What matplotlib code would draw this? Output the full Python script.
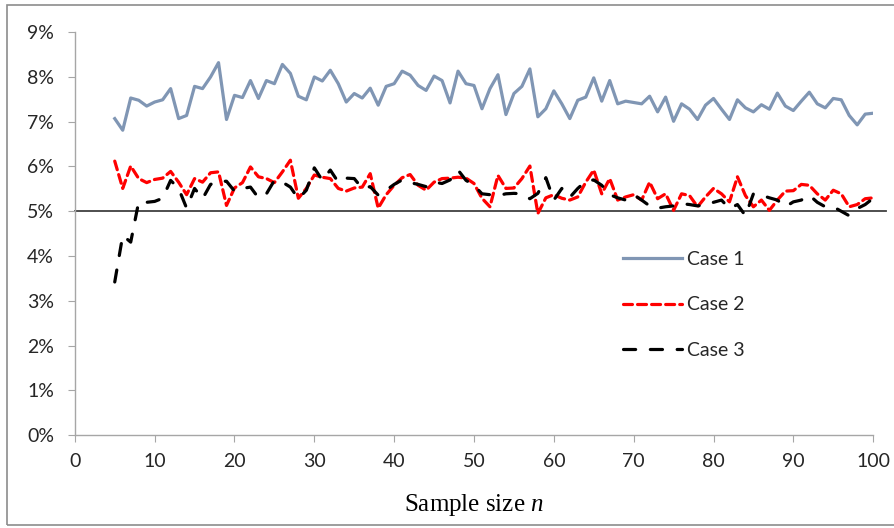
import matplotlib
matplotlib.use("Agg")
import matplotlib.pyplot as plt
from matplotlib.patches import Rectangle
from matplotlib.ticker import FuncFormatter
import numpy as np

n = np.arange(5, 101)

case1 = [7.07, 6.81, 7.53, 7.48, 7.35, 7.44, 7.49, 7.74, 7.07, 7.14,
         7.79, 7.74, 8.00, 8.32, 7.05, 7.59, 7.54, 7.92, 7.52, 7.92,
         7.85, 8.28, 8.08, 7.57, 7.49, 8.00, 7.91, 8.15, 7.85, 7.44,
         7.63, 7.53, 7.75, 7.37, 7.79, 7.85, 8.13, 8.04, 7.81, 7.70,
         8.02, 7.92, 7.42, 8.13, 7.85, 7.81, 7.29, 7.74, 8.05, 7.16,
         7.63, 7.79, 8.18, 7.11, 7.29, 7.69, 7.40, 7.07, 7.48, 7.55,
         7.98, 7.46, 7.92, 7.40, 7.46, 7.43, 7.40, 7.57, 7.22, 7.55,
         7.01, 7.40, 7.28, 7.05, 7.37, 7.52, 7.28, 7.05, 7.49, 7.31,
         7.22, 7.38, 7.28, 7.64, 7.35, 7.25, 7.46, 7.66, 7.40, 7.31,
         7.52, 7.49, 7.14, 6.93, 7.17, 7.19]

case2 = [6.12, 5.51, 6.01, 5.73, 5.64, 5.71, 5.74, 5.89, 5.65, 5.37,
         5.73, 5.65, 5.86, 5.88, 5.13, 5.52, 5.64, 5.99, 5.77, 5.73,
         5.64, 5.88, 6.14, 5.29, 5.51, 5.81, 5.76, 5.73, 5.51, 5.45,
         5.52, 5.54, 5.84, 5.07, 5.37, 5.58, 5.75, 5.82, 5.58, 5.47,
         5.65, 5.73, 5.74, 5.76, 5.74, 5.62, 5.29, 5.10, 5.80, 5.51,
         5.52, 5.73, 6.01, 4.95, 5.30, 5.37, 5.29, 5.25, 5.32, 5.65,
         5.92, 5.39, 5.73, 5.25, 5.32, 5.37, 5.25, 5.65, 5.28, 5.39,
         5.02, 5.39, 5.35, 5.10, 5.32, 5.51, 5.39, 5.21, 5.77, 5.35,
         5.10, 5.25, 5.02, 5.25, 5.45, 5.46, 5.60, 5.58, 5.39, 5.25,
         5.47, 5.39, 5.10, 5.15, 5.28, 5.30]

case3 = [3.42, 4.46, 4.31, 5.21, 5.20, 5.22, 5.29, 5.69, 5.51, 5.07,
         5.51, 5.28, 5.60, 5.67, 5.67, 5.45, 5.51, 5.54, 5.30, 5.39,
         5.69, 5.65, 5.54, 5.28, 5.47, 5.97, 5.69, 5.92, 5.65, 5.74,
         5.73, 5.51, 5.55, 5.36, 5.47, 5.60, 5.70, 5.64, 5.60, 5.55,
         5.65, 5.62, 5.70, 5.92, 5.69, 5.58, 5.39, 5.37, 5.35, 5.39,
         5.40, 5.39, 5.28, 5.40, 5.75, 5.25, 5.51, 5.31, 5.51, 5.67,
         5.70, 5.58, 5.37, 5.30, 5.25, 5.37, 5.25, 5.12, 5.07, 5.10,
         5.12, 5.17, 5.15, 5.12, 5.14, 5.20, 5.25, 5.06, 5.15, 4.90,
         5.39, 5.36, 5.30, 5.25, 5.10, 5.21, 5.25, 5.36, 5.20, 5.10,
         5.10, 5.00, 4.90, 5.06, 5.15, 5.29]

nominal = 5.0
labels = ["Case 1", "Case 2", "Case 3"]

plt.rcParams['font.family'] = ['Lato', 'DejaVu Sans']
plt.rcParams['mathtext.fontset'] = 'custom'
plt.rcParams['mathtext.rm'] = 'Liberation Serif'
plt.rcParams['mathtext.it'] = 'Liberation Serif:italic'

fig = plt.figure(figsize=(8.94, 5.28), dpi=100)
ax = fig.add_axes([0.0837, 0.176, 0.893, 0.763])

# frame round the whole chart
fig.patches.append(Rectangle((7 / 894, 3 / 528), 1.0, 1 - 8 / 528,
                             transform=fig.transFigure, fill=False,
                             edgecolor='#8c8c8c', lw=1.2))

ax.axhline(nominal, xmin=0, xmax=1.016, color='#404040', lw=1.3,
           clip_on=False, zorder=1)

ax.plot(n, case1, color='#8096b4', lw=2.3, label=labels[0], zorder=3)
ax.plot(n, case2, color='#ff0000', lw=2.3, linestyle=(0, (2.8, 1.6)),
        dash_capstyle='round', label=labels[1], zorder=3)
ax.plot(n, case3, color='#000000', lw=2.3, linestyle=(0, (3.8, 4.6)),
        dash_capstyle='round', label=labels[2], zorder=4)

ax.set_xlim(0, 100)
ax.set_ylim(0, 9)
ax.set_xticks(np.arange(0, 101, 10))
ax.set_yticks(np.arange(0, 10, 1))
ax.yaxis.set_major_formatter(FuncFormatter(lambda v, p: "%d%%" % v))

for side in ['top', 'right']:
    ax.spines[side].set_visible(False)
for side in ['left', 'bottom']:
    ax.spines[side].set_color('#a6a6a6')
    ax.spines[side].set_linewidth(1.0)
ax.tick_params(axis='both', direction='out', length=5, color='#a6a6a6',
               labelsize=14, labelcolor='#262626')
ax.tick_params(axis='y', pad=10)
ax.tick_params(axis='x', pad=8)

ax.set_xlabel("Sample size $n$", fontsize=18, family='Liberation Serif',
              labelpad=16)

leg = ax.legend(loc='upper left', bbox_to_anchor=(0.665, 0.50),
                frameon=False, fontsize=14, handlelength=3.0,
                handletextpad=0.3, labelspacing=1.45)
for t in leg.get_texts():
    t.set_color('#262626')

fig.savefig("out.png", dpi=100)
